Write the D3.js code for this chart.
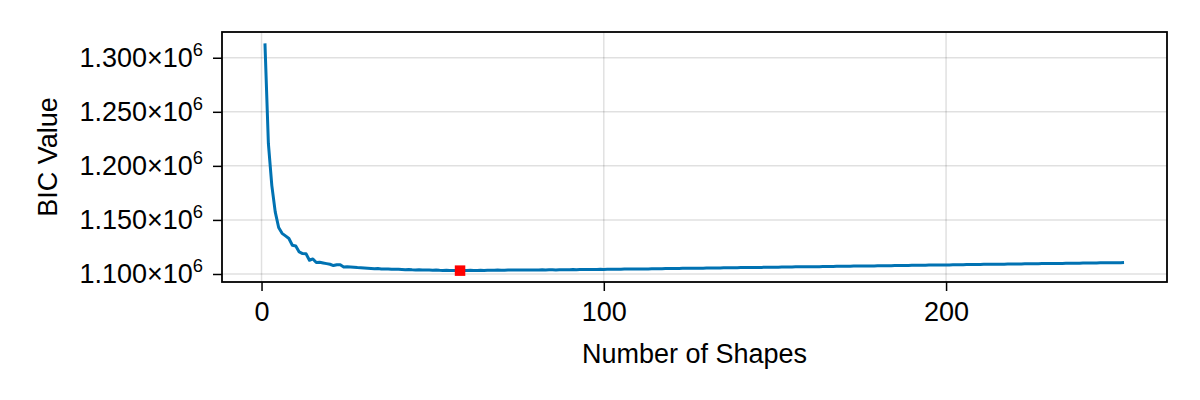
<!DOCTYPE html>
<html>
<head>
<meta charset="utf-8">
<script src="https://cdn.jsdelivr.net/npm/d3@7"></script>
<style>
  html, body { margin: 0; padding: 0; background: #fff; }
  svg { display: block; font-family: "Liberation Sans", Arial, Helvetica, sans-serif; }
</style>
</head>
<body>
<svg id="chart" width="1200" height="400"></svg>
<script>
// ---- data ----
const shapes = d3.range(1, 253);
const bicValues = [
  1313300, 1220700, 1182000, 1157400, 1143000, 1137600, 1135200, 1132800, 1126600, 1125900,
  1120400, 1118900, 1118700, 1112700, 1113900, 1110600, 1110800, 1110200, 1109600, 1109000,
  1107800, 1108600, 1108500, 1106500, 1106800, 1106500, 1106200, 1105900, 1105700, 1105500,
  1105300, 1105100, 1104900, 1105000, 1104700, 1104600, 1104700, 1104400, 1104300, 1104400,
  1104200, 1104000, 1104100, 1103900, 1103800, 1103900, 1103700, 1103600, 1103700, 1103500,
  1103600, 1103400, 1103300, 1103500, 1103300, 1103200, 1103300, 1103100, 1103300, 1103200,
  1103400, 1103300, 1103300, 1103400, 1103300, 1103500, 1103400, 1103400, 1103600, 1103500,
  1103500, 1103700, 1103600, 1103600, 1103700, 1103600, 1103800, 1103700, 1103800, 1103800,
  1103700, 1103900, 1103800, 1103900, 1103900, 1103800, 1104000, 1103900, 1104000, 1104000,
  1104100, 1104000, 1104100, 1104100, 1104200, 1104100, 1104200, 1104200, 1104300, 1104200,
  1104300, 1104300, 1104300, 1104400, 1104400, 1104500, 1104500, 1104500, 1104600, 1104600,
  1104700, 1104700, 1104700, 1104800, 1104800, 1104900, 1104900, 1105000, 1105000, 1105000,
  1105100, 1105100, 1105200, 1105200, 1105200, 1105300, 1105300, 1105400, 1105400, 1105500,
  1105500, 1105500, 1105600, 1105600, 1105700, 1105700, 1105800, 1105800, 1105800, 1105900,
  1105900, 1106000, 1106000, 1106000, 1106100, 1106100, 1106200, 1106200, 1106300, 1106300,
  1106300, 1106400, 1106400, 1106500, 1106500, 1106600, 1106600, 1106600, 1106700, 1106700,
  1106800, 1106800, 1106800, 1106900, 1106900, 1107000, 1107000, 1107100, 1107100, 1107100,
  1107200, 1107200, 1107300, 1107300, 1107300, 1107400, 1107400, 1107500, 1107500, 1107600,
  1107600, 1107600, 1107700, 1107700, 1107800, 1107800, 1107900, 1107900, 1107900, 1108000,
  1108000, 1108100, 1108100, 1108100, 1108200, 1108200, 1108300, 1108300, 1108400, 1108400,
  1108400, 1108500, 1108500, 1108600, 1108600, 1108700, 1108700, 1108700, 1108800, 1108800,
  1108900, 1108900, 1108900, 1109000, 1109000, 1109100, 1109100, 1109200, 1109200, 1109200,
  1109300, 1109300, 1109400, 1109400, 1109400, 1109500, 1109500, 1109600, 1109600, 1109700,
  1109700, 1109700, 1109800, 1109800, 1109900, 1109900, 1110000, 1110000, 1110000, 1110100,
  1110100, 1110200, 1110200, 1110200, 1110300, 1110300, 1110400, 1110400, 1110500, 1110500,
  1110500, 1110600
];
const bestShape = [58];
const bestValue = [1103100];
const xTicks = [0, 100, 200];
const yTicks = [1100000, 1150000, 1200000, 1250000, 1300000];
const xLabel = "Number of Shapes";
const yLabel = "BIC Value";

// ---- layout ----
const svg = d3.select("#chart");
const box = { left: 222, right: 1167, top: 32, bottom: 282 };

function padded(ext) {
  const m = (ext[1] - ext[0]) * 0.05;
  return [ext[0] - m, ext[1] + m];
}
const x = d3.scaleLinear().domain(padded(d3.extent(shapes))).range([box.left, box.right]);
const y = d3.scaleLinear().domain(padded(d3.extent(bicValues))).range([box.bottom, box.top]);

const fontSize = 27;
const fam = "Liberation Sans, Arial, sans-serif";

// grid
const grid = svg.append("g");
grid.selectAll("line.gx").data(xTicks).join("line")
  .attr("x1", d => x(d)).attr("x2", d => x(d))
  .attr("y1", box.top).attr("y2", box.bottom)
  .attr("stroke", "rgba(0,0,0,0.12)").attr("stroke-width", 1.5);
grid.selectAll("line.gy").data(yTicks).join("line")
  .attr("y1", d => y(d)).attr("y2", d => y(d))
  .attr("x1", box.left).attr("x2", box.right)
  .attr("stroke", "rgba(0,0,0,0.12)").attr("stroke-width", 1.5);

// line
const line = d3.line().x((d, i) => x(shapes[i])).y(d => y(d));
svg.append("path").datum(bicValues)
  .attr("d", line)
  .attr("fill", "none")
  .attr("stroke", "#0072b2")
  .attr("stroke-width", 3)
  .attr("stroke-linejoin", "round");

// best marker
const ms = 10.5;
svg.selectAll("rect.best").data(bestShape).join("rect")
  .attr("x", d => x(d) - ms / 2)
  .attr("y", (d, i) => y(bestValue[i]) - ms / 2)
  .attr("width", ms).attr("height", ms)
  .attr("fill", "#ff0000");

// frame
svg.append("rect")
  .attr("x", box.left).attr("y", box.top)
  .attr("width", box.right - box.left).attr("height", box.bottom - box.top)
  .attr("fill", "none").attr("stroke", "#000").attr("stroke-width", 1.8);

// x axis
const xAxis = d3.axisBottom(x).tickValues(xTicks).tickSize(9).tickPadding(11).tickFormat(d3.format("d"));
const gx = svg.append("g").attr("transform", `translate(0,${box.bottom})`).call(xAxis);
gx.select(".domain").remove();
gx.selectAll(".tick line").attr("stroke", "#000").attr("stroke-width", 1.5);
gx.selectAll(".tick text").attr("font-size", fontSize).attr("font-family", fam).attr("fill", "#000");

// y axis
const yAxis = d3.axisLeft(y).tickValues(yTicks).tickSize(9).tickPadding(10).tickFormat(() => "");
const gy = svg.append("g").attr("transform", `translate(${box.left},0)`).call(yAxis);
gy.select(".domain").remove();
gy.selectAll(".tick line").attr("stroke", "#000").attr("stroke-width", 1.5);
gy.selectAll(".tick text")
  .attr("font-size", fontSize).attr("font-family", fam).attr("fill", "#000")
  .each(function(d) {
    const t = d3.select(this);
    t.text(null);
    t.append("tspan").text(d3.format(".3f")(d / 1e6) + "×10");
    t.append("tspan").text("6").attr("font-size", fontSize * 0.68).attr("dy", "-0.6em");
  });

// axis labels
svg.append("text")
  .attr("x", (box.left + box.right) / 2).attr("y", 363)
  .attr("text-anchor", "middle").attr("font-size", fontSize).attr("font-family", fam)
  .text(xLabel);
svg.append("text")
  .attr("transform", `translate(57,${(box.top + box.bottom) / 2}) rotate(-90)`)
  .attr("text-anchor", "middle").attr("font-size", fontSize).attr("font-family", fam)
  .text(yLabel);
</script>
</body>
</html>
